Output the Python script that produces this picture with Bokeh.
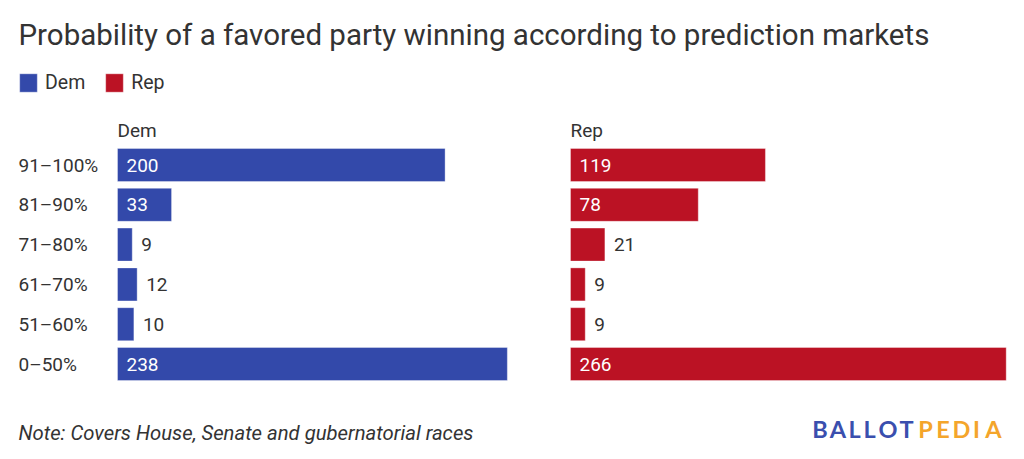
from bokeh.plotting import figure
from bokeh.models import ColumnDataSource, Range1d, Label, Legend, LegendItem
from bokeh.embed import file_html
from bokeh.resources import INLINE
from bokeh.core.properties import value

# ---- data ----
categories = ["91\u2013100%", "81\u201390%", "71\u201380%", "61\u201370%", "51\u201360%", "0\u201350%"]
dem_values = [200, 33, 9, 12, 10, 238]
rep_values = [119, 78, 21, 9, 9, 266]
series_names = ["Dem", "Rep"]

TITLE = "Probability of a favored party winning according to prediction markets"
NOTE = "Note: Covers House, Senate and gubernatorial races"
LOGO_LEFT = "BALLOT"
LOGO_RIGHT = "PEDIA"

DEM_COLOR = "#3349aa"
REP_COLOR = "#bb1224"
TEXT_COLOR = "#333333"
LOGO_BLUE = "#3a4fae"
LOGO_ORANGE = "#f4a52b"
FONT = "Roboto"

# ---- layout ----
W, H = 1024, 459
PX_PER_UNIT = 1.638
DEM_START_PX = 117
PANEL_GAP_PX = 453
FIRST_ROW_PX = 164.5
ROW_PITCH = 39.8

x_start = -DEM_START_PX / PX_PER_UNIT
x_end = (W - DEM_START_PX) / PX_PER_UNIT
rep_offset = PANEL_GAP_PX / PX_PER_UNIT
y_top = -FIRST_ROW_PX / ROW_PITCH
y_bottom = (H - FIRST_ROW_PX) / ROW_PITCH

p = figure(width=W, height=H, output_backend="svg", toolbar_location=None,
           x_range=Range1d(x_start, x_end), y_range=Range1d(y_bottom, y_top),
           min_border=0, outline_line_color=None)
p.xaxis.visible = False
p.yaxis.visible = False
p.xgrid.visible = False
p.ygrid.visible = False

rows = list(range(len(categories)))
VAL_FS = 19


def panel(vals, offset, color):
    src = ColumnDataSource(dict(
        y=rows, left=[offset] * len(vals), right=[offset + v for v in vals],
        label=[str(v) for v in vals]))
    r = p.hbar(y="y", left="left", right="right", height=0.83, source=src,
               fill_color=color, line_color="white", line_alpha=0.35, line_width=1)
    # value labels: inside bar when it fits, else outside
    ins = dict(x=[], y=[], t=[])
    out = dict(x=[], y=[], t=[])
    for i, v in enumerate(vals):
        bar_px = v * PX_PER_UNIT
        need = len(str(v)) * VAL_FS * 0.56 + 18
        if bar_px >= need:
            ins["x"].append(offset); ins["y"].append(i); ins["t"].append(str(v))
        else:
            out["x"].append(offset + v); out["y"].append(i); out["t"].append(str(v))
    p.text(x="x", y="y", text="t", source=ColumnDataSource(ins), x_offset=9,
           text_color="white", text_font=value(FONT), text_font_size=f"{VAL_FS}px",
           text_baseline="middle", text_align="left")
    p.text(x="x", y="y", text="t", source=ColumnDataSource(out), x_offset=9,
           text_color=TEXT_COLOR, text_font=value(FONT), text_font_size=f"{VAL_FS}px",
           text_baseline="middle", text_align="left")
    return r


dem_r = panel(dem_values, 0, DEM_COLOR)
rep_r = panel(rep_values, rep_offset, REP_COLOR)

# panel headers
p.text(x=[0, rep_offset], y=[-0.87, -0.87], text=series_names,
       text_color=TEXT_COLOR, text_font=value(FONT), text_font_size="19px",
       text_baseline="middle", text_align="left")

# row labels
p.text(x=[0] * len(categories), y=rows, text=categories, x_offset=-99,
       text_color=TEXT_COLOR, text_font=value(FONT), text_font_size="19px",
       text_baseline="middle", text_align="left")

# title
p.add_layout(Label(x=18, y=425, x_units="screen", y_units="screen", text=TITLE,
                   text_font=FONT, text_font_size="29.5px", text_color=TEXT_COLOR,
                   text_baseline="middle"))

# legend
legend = Legend(items=[LegendItem(label=series_names[0], renderers=[dem_r]),
                       LegendItem(label=series_names[1], renderers=[rep_r])],
                orientation="horizontal", location=(17, 365),
                glyph_width=22, glyph_height=23, label_standoff=6, spacing=18,
                padding=0, margin=0, border_line_color=None,
                background_fill_alpha=0, label_text_font=FONT,
                label_text_font_size="19.5px", label_text_color=TEXT_COLOR)
p.add_layout(legend, "center")

# note
p.add_layout(Label(x=18, y=27, x_units="screen", y_units="screen", text=NOTE,
                   text_font=FONT, text_font_size="20.3px", text_font_style="italic",
                   text_color=TEXT_COLOR, text_baseline="middle"))

# logo (letter-spaced)
logo_centers = [819.5, 837.5, 854, 869, 887.5, 906, 925, 942.5, 961, 976, 993]
letters = list(LOGO_LEFT + LOGO_RIGHT)
for i, (ch, cx) in enumerate(zip(letters, logo_centers)):
    p.add_layout(Label(x=cx, y=31, x_units="screen", y_units="screen", text=ch,
                       text_font="Lato", text_font_size="23.5px", text_font_style="bold",
                       text_color=LOGO_BLUE if i < len(LOGO_LEFT) else LOGO_ORANGE,
                       text_baseline="middle", text_align="center"))

open("out.html", "w").write(file_html(p, INLINE))
